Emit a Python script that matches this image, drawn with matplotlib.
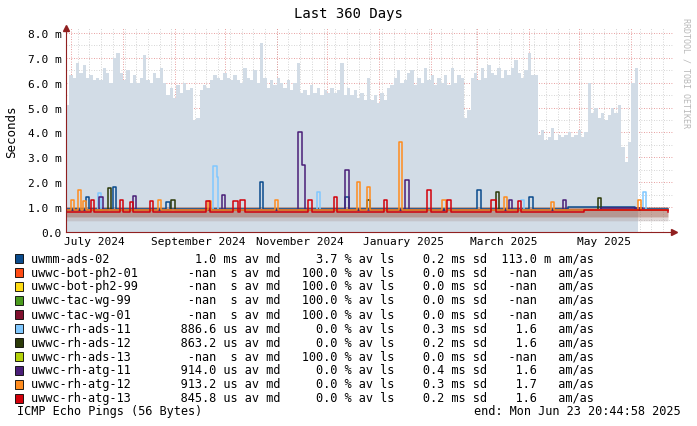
import numpy as np
import matplotlib
matplotlib.use("Agg")
import matplotlib.pyplot as plt
from matplotlib.patches import Rectangle

plt.rcParams['font.family'] = ['DejaVu Sans Mono']

# smoke top of uwmm-ads-02, one value per 2 days (ms)
smoke_top = [5.1, 6.3, 6.2, 6.8, 6.4, 6.7, 6.2, 6.3, 6.1, 6.2,
             6.1, 6.6, 6.4, 6.0, 7.0, 7.2, 6.4, 6.1, 6.5, 6.0,
             6.3, 6.0, 6.2, 7.1, 6.1, 6.0, 6.4, 6.2, 6.6, 6.0,
             5.5, 5.8, 5.4, 5.9, 5.6, 6.0, 5.7, 5.8, 4.5, 4.6,
             5.7, 5.9, 5.8, 6.1, 6.3, 6.2, 6.1, 6.4, 6.2, 6.1,
             6.3, 6.1, 6.0, 6.6, 6.2, 6.1, 6.5, 6.0, 7.6, 6.2,
             5.8, 6.1, 5.9, 6.2, 6.0, 5.8, 6.1, 5.7, 6.0, 6.8,
             5.6, 5.7, 5.5, 5.9, 5.6, 5.8, 5.5, 5.7, 5.6, 5.8,
             5.6, 5.7, 6.8, 5.5, 5.8, 5.5, 5.7, 5.4, 5.6, 5.3,
             6.2, 5.3, 5.5, 5.2, 5.6, 5.3, 5.8, 5.9, 6.2, 6.5,
             6.0, 6.1, 6.4, 6.5, 5.9, 6.2, 6.0, 6.6, 6.1, 6.3,
             5.9, 6.2, 6.0, 6.3, 5.9, 6.6, 6.0, 6.3, 6.2, 4.6,
             4.9, 6.2, 6.4, 6.1, 6.6, 6.2, 6.7, 6.4, 6.3, 6.6,
             6.2, 6.5, 6.3, 6.6, 6.9, 6.4, 6.2, 6.5, 7.2, 6.3,
             6.3, 3.9, 4.1, 3.7, 3.8, 4.2, 3.7, 3.9, 3.8, 3.9,
             4.0, 3.8, 3.9, 4.1, 3.8, 4.0, 6.0, 4.8, 5.0, 4.6,
             4.8, 4.5, 4.7, 5.0, 4.8, 5.1, 3.4, 2.8, 3.6, 6.0,
             6.6]

names = ["uwmm-ads-02", "uwwc-bot-ph2-01", "uwwc-bot-ph2-99", "uwwc-tac-wg-99",
         "uwwc-tac-wg-01", "uwwc-rh-ads-11", "uwwc-rh-ads-12", "uwwc-rh-ads-13",
         "uwwc-rh-atg-11", "uwwc-rh-atg-12", "uwwc-rh-atg-13"]
colors = ["#0a4b8c", "#ff4b14", "#ffdc14", "#4b9b1e", "#80102e", "#80c8ff",
          "#2c3a08", "#b4d20a", "#4a1e78", "#ff8c1e", "#d2000a"]
median = ["1.0", "-nan", "-nan", "-nan", "-nan", "886.6", "863.2", "-nan", "914.0", "913.2", "845.8"]
unit = ["ms", "s", "s", "s", "s", "us", "us", "s", "us", "us", "us"]
loss = ["3.7", "100.0", "100.0", "100.0", "100.0", "0.0", "0.0", "100.0", "0.0", "0.0", "0.0"]
sdev = ["0.2", "0.0", "0.0", "0.0", "0.0", "0.3", "0.2", "0.0", "0.4", "0.3", "0.2"]
amas = ["113.0", "-nan", "-nan", "-nan", "-nan", "1.6", "1.6", "-nan", "1.6", "1.7", "1.6"]
amas_unit = ["m", "", "", "", "", "", "", "", "", "", ""]

# median lines: base level and spikes (start day, length in days, value ms)
lines = {
    "uwmm-ads-02": (0.92, [(12, 2, 1.4), (28, 2, 1.8), (116, 2, 2.0), (167, 2, 1.4), (246, 2, 1.7),
                           (277, 2, 1.4), (60, 2, 1.2), (300, 40, 1.0)]),
    "uwwc-rh-ads-11": (0.88, [(19, 2, 1.55), (88, 2, 2.65), (90, 1, 2.2), (150, 2, 1.6), (345, 2, 1.6), (272, 2, 1.3)]),
    "uwwc-rh-ads-12": (0.88, [(25, 2, 1.75), (63, 2, 1.3), (257, 2, 1.6), (318, 2, 1.35), (180, 2, 1.3)]),
    "uwwc-rh-atg-11": (0.9, [(20, 2, 1.4), (40, 2, 1.45), (93, 2, 1.5), (139, 2, 4.0), (141, 2, 2.7),
                             (167, 2, 2.5), (203, 2, 2.1), (265, 2, 1.3), (297, 2, 1.3), (320, 25, 0.98)]),
    "uwwc-rh-atg-12": (0.88, [(3, 2, 1.3), (7, 2, 1.7), (10, 2, 1.25), (55, 2, 1.3), (85, 2, 1.25),
                              (125, 2, 1.3), (174, 2, 2.0), (180, 2, 1.8), (199, 2, 3.6), (225, 2, 1.3),
                              (262, 2, 1.4), (290, 2, 1.2), (342, 2, 1.3)]),
    "uwwc-rh-atg-13": (0.82, [(15, 2, 1.3), (32, 2, 1.3), (38, 2, 1.2), (50, 2, 1.25), (84, 2, 1.25),
                              (100, 3, 1.25), (104, 3, 1.3), (145, 2, 1.3), (160, 2, 1.4), (190, 2, 1.3),
                              (216, 2, 1.7), (228, 2, 1.3), (254, 3, 1.3), (270, 2, 1.25), (310, 50, 0.9)]),
}

days = np.arange(361)

def step_series(base, spikes):
    y = np.full(len(days), base)
    for s, n, v in spikes:
        y[s:s + n] = v
    return y

fig = plt.figure(figsize=(6.97, 4.27), dpi=100)
ax = fig.add_axes([66 / 697, (427 - 233) / 427, 608 / 697, 204 / 427])
ax.set_xlim(0, 360 * 608 / 602)
ax.set_ylim(0, 8.2)

sx = np.arange(len(smoke_top) + 1) * 2
sy = smoke_top + [0]
ax.fill_between(sx, 0, sy, step="post", color="#d2dce6", lw=0)
ax.fill_between(days, 0.6, 1.02, step="post", color="#a06a5a", alpha=0.6, lw=0)
ax.fill_between(days, 0.45, 0.6, step="post", color="#b0a0a0", alpha=0.4, lw=0)

for nm in lines:
    base, spikes = lines[nm]
    ax.plot(days, step_series(base, spikes), drawstyle="steps-post",
            color=colors[names.index(nm)], lw=1.1)

month_starts = [3, 34, 65, 95, 126, 156, 187, 218, 246, 277, 307, 338]
for d in range(0, 361, 7):
    ax.axvline(d, color="#c8c8c8", lw=0.6, ls=(0, (1, 2)), zorder=0.5)
for d in month_starts:
    ax.axvline(d, color="#e08080", lw=0.6, ls=(0, (1, 2)), zorder=0.6)
for v in np.arange(0.5, 8.1, 0.5):
    c = "#e08080" if v % 1 == 0 else "#c8c8c8"
    ax.axhline(v, color=c, lw=0.6, ls=(0, (1, 2)), zorder=0.6)

ax.set_yticks(np.arange(0, 8.1, 1.0))
ax.set_yticklabels(["%.1f" % v if v == 0 else "%.1f m" % v for v in np.arange(0, 8.1, 1.0)], fontsize=8)
label_pos = [17, 79, 140, 202, 262, 322]
ax.set_xticks(label_pos)
ax.set_xticklabels(["July 2024", "September 2024", "November 2024", "January 2025",
                    "March 2025", "May 2025"], fontsize=8)
ax.tick_params(length=0, pad=3)
for s in ["top", "right"]:
    ax.spines[s].set_visible(False)
for s in ["left", "bottom"]:
    ax.spines[s].set_color("#902020")
ax.plot(1, 0, ">", transform=ax.transAxes, color="#902020", ms=4, clip_on=False)
ax.plot(0, 1, "^", transform=ax.transAxes, color="#902020", ms=4, clip_on=False)

fig.text(348 / 697, 1 - 14 / 427, "Last 360 Days", ha="center", va="center", fontsize=10)
fig.text(12 / 697, 1 - 132 / 427, "Seconds", rotation=90, ha="center", va="center", fontsize=9)
fig.text(686 / 697, 1 - 73 / 427, "RRDTOOL / TOBI OETIKER", rotation=270, ha="center",
         va="center", fontsize=6, color="#b8b8b8")

for i, nm in enumerate(names):
    yy = 1 - (259 + 14 * i) / 427
    fig.patches.append(Rectangle((15 / 697, yy - 4.5 / 427), 8 / 697, 9 / 427, transform=fig.transFigure,
                                 facecolor=colors[i], edgecolor="black", lw=0.6))
    row = "%-18s%8s %2s av md%8s %% av ls%7s ms sd%7s %1s am/as" % (
        nm, median[i], unit[i], loss[i], sdev[i], amas[i], amas_unit[i])
    fig.text(31 / 697, yy, row, ha="left", va="center", fontsize=8.6)

fig.text(17 / 697, 1 - 412 / 427, "ICMP Echo Pings (56 Bytes)", ha="left", va="center", fontsize=8.6)
fig.text(681 / 697, 1 - 412 / 427, "end: Mon Jun 23 20:44:58 2025", ha="right", va="center", fontsize=8.6)

fig.savefig("out.png", dpi=100)
